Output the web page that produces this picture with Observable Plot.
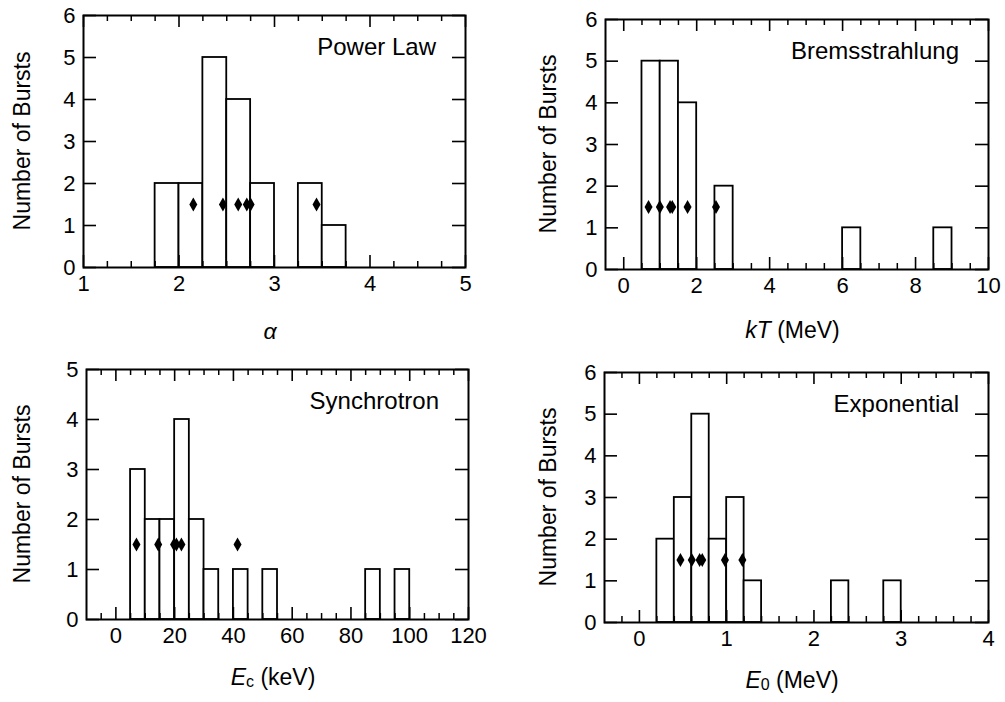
<!DOCTYPE html>
<html><head><meta charset="utf-8">
<script src="https://cdn.jsdelivr.net/npm/d3@7"></script>
<script src="https://cdn.jsdelivr.net/npm/@observablehq/plot@0.6"></script>
<style>
html,body{margin:0;padding:0;background:#fff;}
#chart{display:flex;flex-wrap:wrap;width:1005px;height:702px;background:#fff;}
#chart svg{display:block;flex:none;}
</style></head><body><div id="chart"></div>
<script>
// ---- data ----
const powerLawBinStart = [1.75, 2.0, 2.25, 2.5, 2.75, 3.25, 3.5];
const powerLawCounts   = [2, 2, 5, 4, 2, 2, 1];
const powerLawBinWidth = 0.25;
const powerLawMarkers  = [2.15, 2.46, 2.62, 2.71, 2.75, 3.44];
const powerLawXTicks   = [1, 2, 3, 4, 5];

const bremsBinStart = [0.5, 1.0, 1.5, 2.5, 6.0, 8.5];
const bremsCounts   = [5, 5, 4, 2, 1, 1];
const bremsBinWidth = 0.5;
const bremsMarkers  = [0.68, 0.99, 1.27, 1.33, 1.75, 2.53];
const bremsXTicks   = [0, 2, 4, 6, 8, 10];

const synchBinStart = [5, 10, 15, 20, 25, 30, 40, 50, 85, 95];
const synchCounts   = [3, 2, 2, 4, 2, 1, 1, 1, 1, 1];
const synchBinWidth = 5;
const synchMarkers  = [7.0, 14.4, 19.8, 20.6, 22.3, 41.4];
const synchXTicks   = [0, 20, 40, 60, 80, 100, 120];

const expBinStart = [0.2, 0.4, 0.6, 0.8, 1.0, 1.2, 2.2, 2.8];
const expCounts   = [2, 3, 5, 2, 3, 1, 1, 1];
const expBinWidth = 0.2;
const expMarkers  = [0.47, 0.60, 0.69, 0.72, 0.98, 1.18];
const expXTicks   = [0, 1, 2, 3, 4];

const markerLevel = 1.5;
const yTitle = "Number of Bursts";

// ---- drawing ----
const FONT = "'Liberation Sans', Arial, Helvetica, sans-serif";
const root = document.getElementById("chart");

function panel(o) {
  const innerW = o.width - o.mL - o.mR;
  const innerH = o.height - o.mT - o.mB;
  const bins = o.binStart.map((s, i) => ({x1: s, x2: s + o.binWidth, n: o.counts[i]}));
  const yTicks = d3.range(0, o.yMax + 1);
  const minor = d3.range(o.minorStart, o.xDomain[1] + 1e-9, o.minorStep)
    .filter(v => !o.xTicks.some(t => Math.abs(t - v) < 1e-9));
  const svg = Plot.plot({
    width: o.width, height: o.height,
    marginLeft: o.mL, marginRight: o.mR, marginTop: o.mT, marginBottom: o.mB,
    style: {fontFamily: FONT, fontSize: "22px", color: "black"},
    x: {domain: o.xDomain},
    y: {domain: [0, o.yMax]},
    marks: [
      Plot.rect(bins, {x1: "x1", x2: "x2", y1: 0, y2: "n", fill: "white", stroke: "black", strokeWidth: 1.8}),
      // inward x ticks, bottom and top
      Plot.tickX(minor, {x: d => d, insetTop: innerH - 6, stroke: "black", strokeWidth: 1.5}),
      Plot.tickX(minor, {x: d => d, insetBottom: innerH - 6, stroke: "black", strokeWidth: 1.5}),
      Plot.tickX(o.xTicks, {x: d => d, insetTop: innerH - 12, stroke: "black", strokeWidth: 1.6}),
      Plot.tickX(o.xTicks, {x: d => d, insetBottom: innerH - 12, stroke: "black", strokeWidth: 1.6}),
      // inward y ticks, left and right
      Plot.tickY(yTicks, {y: d => d, insetRight: innerW - 13, stroke: "black", strokeWidth: 1.6}),
      Plot.tickY(yTicks, {y: d => d, insetLeft: innerW - 13, stroke: "black", strokeWidth: 1.6}),
      Plot.dot(o.markers, {x: d => d, y: () => markerLevel, symbol: "diamond", r: 4.2, fill: "black", stroke: "none"}),
      Plot.axisX({ticks: o.xTicks, tickSize: 0, tickPadding: 8, label: null, tickFormat: d => String(d)}),
      Plot.axisY({ticks: yTicks, tickSize: 0, tickPadding: 8, label: null, tickFormat: d => String(d)}),
      Plot.frame({stroke: "black", strokeWidth: 2})
    ]
  });
  const s = d3.select(svg);
  s.selectAll('g[aria-label="x-axis tick label"] text, g[aria-label="y-axis tick label"] text')
    .style("font-size", "22px").style("font-family", FONT);
  // panel title
  s.append("text")
    .attr("x", o.mL + innerW - 29).attr("y", o.mT + 40)
    .attr("text-anchor", "end")
    .style("font-family", FONT).style("font-size", "24px").attr("fill", "black")
    .text(o.title);
  // y title
  s.append("text")
    .attr("transform", `translate(${o.yTitleX},${o.mT + innerH / 2}) rotate(-90)`)
    .attr("text-anchor", "middle").attr("dominant-baseline", "central")
    .style("font-family", FONT).style("font-size", "23px").attr("fill", "black")
    .text(yTitle);
  // x title
  const t = s.append("text")
    .attr("x", o.mL + innerW / 2 - 4).attr("y", o.mT + innerH + o.xTitleDy)
    .attr("text-anchor", "middle")
    .style("font-family", FONT).style("font-size", "23px").attr("fill", "black");
  o.xLabel.forEach(seg => {
    const ts = t.append("tspan").text(seg.text);
    if (seg.italic) ts.style("font-style", "italic");
    if (seg.sub) ts.style("font-size", "16px").attr("dy", 2);
    if (seg.after) ts.attr("dy", -2);
  });
  root.appendChild(svg);
}

panel({width: 502, height: 351, mL: 83, mR: 37, mT: 15, mB: 84,
  xDomain: [1, 5], yMax: 6, xTicks: powerLawXTicks, minorStart: 1, minorStep: 0.25,
  binStart: powerLawBinStart, counts: powerLawCounts, binWidth: powerLawBinWidth,
  markers: powerLawMarkers, title: "Power Law", yTitleX: 22, xTitleDy: 72,
  xLabel: [{text: "α", italic: true}]});

panel({width: 503, height: 351, mL: 103, mR: 17, mT: 19, mB: 82,
  xDomain: [-0.5, 10], yMax: 6, xTicks: bremsXTicks, minorStart: 0, minorStep: 0.5,
  binStart: bremsBinStart, counts: bremsCounts, binWidth: bremsBinWidth,
  markers: bremsMarkers, title: "Bremsstrahlung", yTitleX: 46, xTitleDy: 69,
  xLabel: [{text: "kT", italic: true}, {text: " (MeV)"}]});

panel({width: 502, height: 351, mL: 86, mR: 34, mT: 18, mB: 83,
  xDomain: [-10, 120], yMax: 5, xTicks: synchXTicks, minorStart: -5, minorStep: 5,
  binStart: synchBinStart, counts: synchCounts, binWidth: synchBinWidth,
  markers: synchMarkers, title: "Synchrotron", yTitleX: 22, xTitleDy: 66,
  xLabel: [{text: "E", italic: true}, {text: "c", sub: true}, {text: " (keV)", after: true}]});

panel({width: 503, height: 351, mL: 102, mR: 17, mT: 21, mB: 80,
  xDomain: [-0.4, 4], yMax: 6, xTicks: expXTicks, minorStart: -0.2, minorStep: 0.2,
  binStart: expBinStart, counts: expCounts, binWidth: expBinWidth,
  markers: expMarkers, title: "Exponential", yTitleX: 46, xTitleDy: 66,
  xLabel: [{text: "E", italic: true}, {text: "0", sub: true}, {text: " (MeV)", after: true}]});
</script>
</body></html>
